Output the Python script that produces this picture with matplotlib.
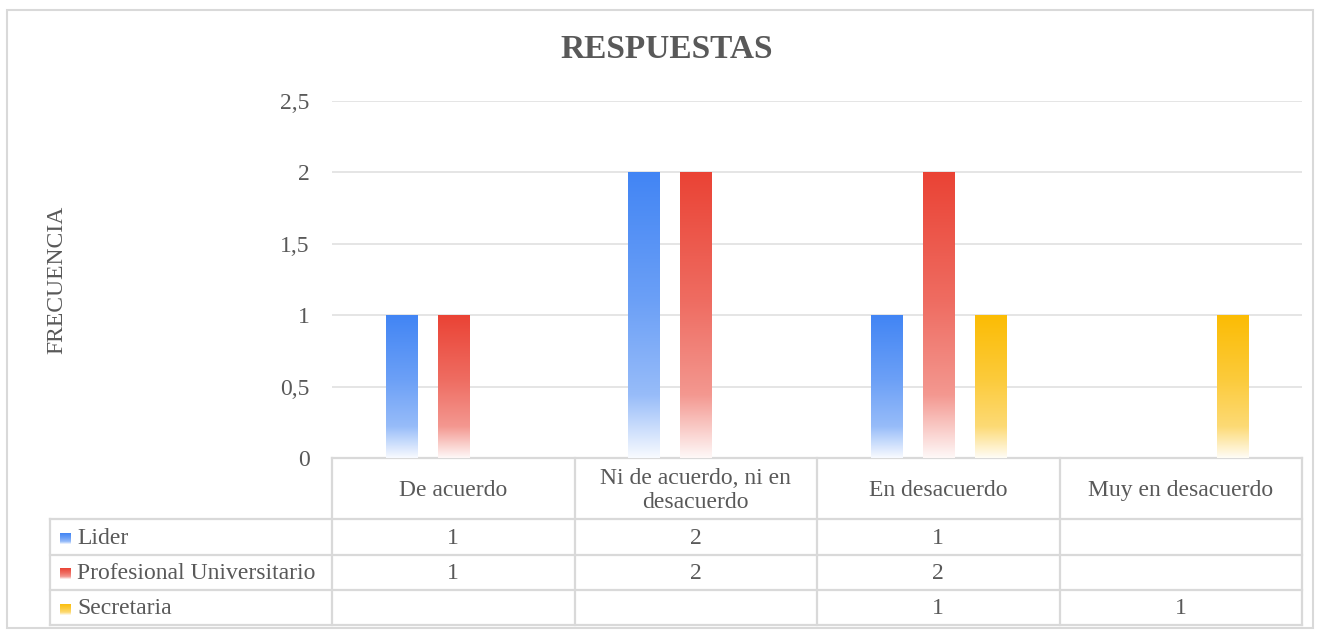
import numpy as np
import matplotlib
matplotlib.use("Agg")
import matplotlib.pyplot as plt
import matplotlib.colors as mcolors
from matplotlib.patches import Rectangle
from matplotlib.transforms import blended_transform_factory

plt.rcParams['font.family'] = ['Liberation Serif', 'DejaVu Serif']

# data
categories = ["De acuerdo", "Ni de acuerdo, ni en\ndesacuerdo", "En desacuerdo", "Muy en desacuerdo"]
series = ["Lider", "Profesional Universitario", "Secretaria"]
lider = [1, 2, 1, None]
profesional = [1, 2, 2, None]
secretaria = [None, None, 1, 1]
colors = ["#4285F4", "#EA4335", "#FBBC04"]
yticks = [0, 0.5, 1, 1.5, 2, 2.5]

txt = "#595959"
grid = "#d9d9d9"
fs = 17


def gradient(color, n=200):
    # top = full colour, fading to white at the bottom
    t = np.linspace(0, 1, n)
    a = np.interp(t, [0, 0.45, 0.78, 1.0], [1.0, 0.78, 0.55, 0.04])
    c = np.array(mcolors.to_rgb(color))
    img = 1 - a[:, None] * (1 - c[None, :])
    return img[:, None, :]


fig = plt.figure(figsize=(13.2, 6.33), dpi=100)
ax = fig.add_axes([332 / 1320, 1 - 458 / 633, 970 / 1320, 357 / 633])

x = np.arange(len(categories))
w = 0.128
offs = [-0.214, 0, 0.214]
for vals, off, col in zip([lider, profesional, secretaria], offs, colors):
    hs = [v if v is not None else 0 for v in vals]
    bars = ax.bar(x + off, hs, w, color="none", edgecolor="none")
    for b in bars:
        if b.get_height() > 0:
            ax.imshow(gradient(col), extent=[b.get_x(), b.get_x() + b.get_width(), 0, b.get_height()],
                      aspect="auto", zorder=3, interpolation="bilinear")

ax.set_xlim(-0.5, 3.5)
ax.set_ylim(0, 2.5)
ax.set_yticks(yticks)
ax.set_yticklabels([f"{v:g}".replace(".", ",") for v in yticks])
ax.tick_params(axis="y", length=0, pad=16, labelsize=fs, labelcolor=txt)
ax.set_xticks([])
ax.yaxis.grid(True, color="#e3e3e3", lw=1.3)
ax.set_axisbelow(True)
for s in ax.spines.values():
    s.set_visible(False)

fig.text(0.5 + 7 / 1320, 1 - 50 / 633, "RESPUESTAS", ha="center", va="center",
         fontsize=24, fontweight="bold", color=txt)
fig.text(57 / 1320, 1 - 280 / 633, "FRECUENCIA", rotation=90, ha="center", va="center",
         fontsize=fs, color=txt)

# data table under the chart
tr = blended_transform_factory(ax.transData, ax.transAxes)
px = 357.0
y_hdr = 0.0
y_rows = [-(519 - 458) / px, -(555 - 458) / px, -(590 - 458) / px, -(625 - 458) / px]
x_left = -0.5 - 282 / 242.5
lk = dict(color=grid, lw=1.6, transform=tr, clip_on=False)

ax.plot([-0.5, 3.5], [y_hdr, y_hdr], **lk)
for yy in y_rows:
    ax.plot([x_left, 3.5], [yy, yy], **lk)
for xb in np.arange(-0.5, 4.0, 1.0):
    ax.plot([xb, xb], [y_hdr, y_rows[-1]], **lk)
ax.plot([x_left, x_left], [y_rows[0], y_rows[-1]], **lk)

for i, c in enumerate(categories):
    ax.text(i, (y_hdr + y_rows[0]) / 2 - 2 / px, c, transform=tr, ha="center", va="center",
            fontsize=fs, color=txt, linespacing=1.22)

for r, (name, vals, col) in enumerate(zip(series, [lider, profesional, secretaria], colors)):
    yc = (y_rows[r] + y_rows[r + 1]) / 2 - 1 / px
    ax.text(x_left + 27 / 242.5, yc, name, transform=tr, ha="left", va="center",
            fontsize=fs, color=txt)
    # legend key
    fy = 1 - (538 + 35.5 * r) / 633
    kax = fig.add_axes([60 / 1320, fy - 5.5 / 633, 11 / 1320, 11 / 633])
    kax.imshow(gradient(col), aspect="auto", interpolation="bilinear")
    kax.axis("off")
    for i, v in enumerate(vals):
        if v is not None:
            ax.text(i, yc, f"{v}", transform=tr, ha="center", va="center",
                    fontsize=fs, color=txt)

# outer frame
fig.patches.append(Rectangle((7 / 1320, 1 - 628 / 633), 1306 / 1320, 618 / 633,
                             transform=fig.transFigure, fill=False, edgecolor=grid, lw=1.5))

fig.savefig("out.png", dpi=100)
